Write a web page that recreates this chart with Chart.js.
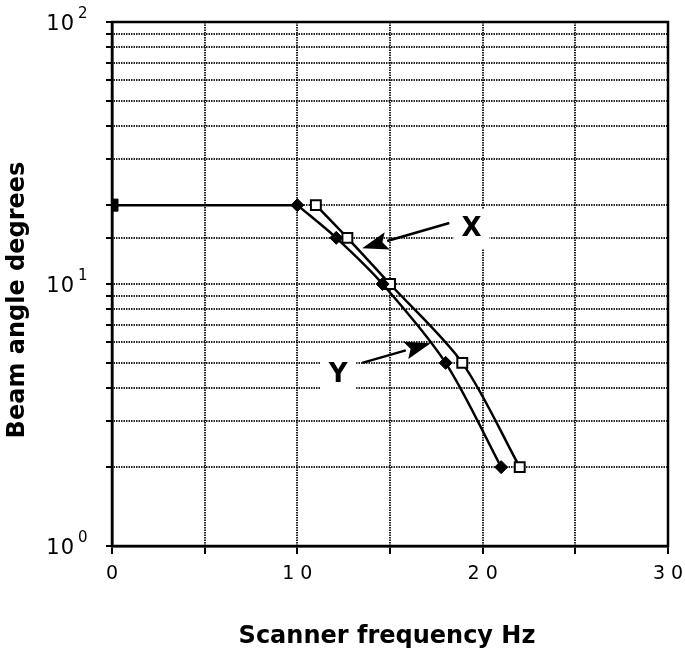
<!DOCTYPE html>
<html>
<head>
<meta charset="utf-8">
<script src="https://cdn.jsdelivr.net/npm/chart.js@4.4.0/dist/chart.umd.min.js"></script>
<style>
  html, body { margin: 0; padding: 0; background: #fff; }
  #wrap { width: 685px; height: 656px; position: relative; }
</style>
</head>
<body>
<div id="wrap"><canvas id="scanChart"></canvas></div>
<script>
// values
const startFreq = [0, 10];
const startAngle = [20, 20];
const yFreq = [10, 12.1, 14.6, 18, 21];
const yAngle = [20, 15, 10, 5, 2];
const xFreq = [11, 12.7, 15, 18.9, 22];
const xAngle = [20, 15, 10, 5, 2];

const xTickLabels = ['0', '10', '20', '30'];
const yTickPowers = [0, 1, 2];

const xTitle = 'Scanner frequency Hz';
const yTitle = 'Beam angle degrees';

// callouts, in data units: label spot, arrow tail, arrow tip
const calloutText = ['X', 'Y'];
const calloutAt = [[19.4, 16.2], [12.2, 4.5]];
const calloutFrom = [[18.2, 17.1], [13.5, 5.0]];
const calloutTo = [[13.5, 13.7], [17.2, 5.94]];

const toPts = (xs, ys) => xs.map((x, i) => ({ x: x, y: ys[i] }));

const FONT = '"DejaVu Sans", Verdana, sans-serif';

const extras = {
    id: 'extras',
    beforeDraw(chart) {
        // wide tick digits like the original
        chart.ctx.letterSpacing = '6px';
    },
    beforeDatasetsDraw(chart) {
        chart.ctx.letterSpacing = '0px';
    },
    afterDraw(chart) {
        const ctx = chart.ctx;
        const area = chart.chartArea;
        const xs = chart.scales.x;
        const ys = chart.scales.y;
        ctx.save();
        ctx.letterSpacing = '0px';

        // frame
        ctx.strokeStyle = '#000';
        ctx.lineWidth = 2.5;
        ctx.strokeRect(area.left, area.top, area.right - area.left, area.bottom - area.top);

        // y tick labels 10^n
        ctx.fillStyle = '#000';
        yTickPowers.forEach(p => {
            const py = ys.getPixelForValue(Math.pow(10, p));
            ctx.font = '21px ' + FONT;
            ctx.textAlign = 'right';
            ctx.textBaseline = 'alphabetic';
            ctx.letterSpacing = '1px';
            ctx.fillText('10', 75, py + 8);
            ctx.font = '15px ' + FONT;
            ctx.textAlign = 'left';
            ctx.letterSpacing = '0px';
            ctx.fillText(String(p), 78, py - 4);
        });

        // axis titles
        ctx.font = 'bold 24px ' + FONT;
        ctx.textAlign = 'center';
        ctx.textBaseline = 'alphabetic';
        ctx.fillText(xTitle, 387, 643);
        ctx.save();
        ctx.translate(24, 300);
        ctx.rotate(-Math.PI / 2);
        ctx.fillText(yTitle, 0, 0);
        ctx.restore();

        // callouts with arrows
        calloutText.forEach((t, i) => {
            const lx = xs.getPixelForValue(calloutAt[i][0]);
            const ly = ys.getPixelForValue(calloutAt[i][1]);
            ctx.fillStyle = '#fff';
            ctx.fillRect(lx - 18, ly - 20, 36, 40);
            ctx.fillStyle = '#000';
            ctx.font = 'bold 26px ' + FONT;
            ctx.textAlign = 'center';
            ctx.textBaseline = 'middle';
            ctx.fillText(t, lx, ly);

            const x0 = xs.getPixelForValue(calloutFrom[i][0]);
            const y0 = ys.getPixelForValue(calloutFrom[i][1]);
            const x1 = xs.getPixelForValue(calloutTo[i][0]);
            const y1 = ys.getPixelForValue(calloutTo[i][1]);
            const ang = Math.atan2(y1 - y0, x1 - x0);
            const headLen = 26, headHalf = 9;
            const bx = x1 - headLen * Math.cos(ang);
            const by = y1 - headLen * Math.sin(ang);
            ctx.strokeStyle = '#000';
            ctx.lineWidth = 2.5;
            ctx.beginPath();
            ctx.moveTo(x0, y0);
            ctx.lineTo(bx, by);
            ctx.stroke();
            ctx.beginPath();
            ctx.moveTo(x1, y1);
            ctx.lineTo(bx + headHalf * Math.sin(ang), by - headHalf * Math.cos(ang));
            ctx.lineTo(bx + 5 * Math.cos(ang), by + 5 * Math.sin(ang));
            ctx.lineTo(bx - headHalf * Math.sin(ang), by + headHalf * Math.cos(ang));
            ctx.closePath();
            ctx.fill();
        });
        ctx.restore();
    }
};

const gridDash = [1.5, 1];

const gridOpts = (tickLen) => ({
    color: 'rgba(0,0,0,0.85)',
    lineWidth: 2,
    drawTicks: true,
    tickLength: tickLen,
    tickColor: '#000',
    tickWidth: 2,
    tickBorderDash: []
});

new Chart(document.getElementById('scanChart'), {
    type: 'line',
    data: {
        datasets: [
            {
                label: 'Y',
                data: toPts(yFreq, yAngle),
                borderColor: '#000',
                borderWidth: 2.5,
                tension: 0.3,
                pointStyle: 'rectRot',
                pointRadius: 6.5,
                pointBackgroundColor: '#000',
                pointBorderColor: '#000',
                pointBorderWidth: 1
            },
            {
                label: 'start',
                data: toPts(startFreq, startAngle),
                borderColor: '#000',
                borderWidth: 2.5,
                tension: 0,
                pointStyle: 'rect',
                pointRadius: [8.5, 0],
                pointBackgroundColor: '#000',
                pointBorderColor: '#000',
                pointBorderWidth: 1
            },
            {
                label: 'X',
                data: toPts(xFreq, xAngle),
                borderColor: '#000',
                borderWidth: 2.5,
                tension: 0.3,
                pointStyle: 'rect',
                pointRadius: 7,
                pointBackgroundColor: '#fff',
                pointBorderColor: '#000',
                pointBorderWidth: 2
            }
        ]
    },
    options: {
        responsive: true,
        maintainAspectRatio: false,
        animation: false,
        layout: { padding: { top: 22, right: 17, left: 0, bottom: 0 } },
        plugins: {
            legend: { display: false },
            tooltip: { enabled: false }
        },
        scales: {
            x: {
                type: 'linear',
                min: 0,
                max: 30,
                afterFit: s => { s.height = 110; s.paddingLeft = 0; s.paddingRight = 0; },
                ticks: {
                    stepSize: 5,
                    autoSkip: false,
                    maxRotation: 0,
                    padding: 9,
                    labelOffset: 3,
                    color: '#000',
                    font: { family: FONT, size: 19 },
                    callback: v => xTickLabels.includes(String(v)) ? String(v) : ''
                },
                grid: gridOpts(8),
                border: { display: true, color: '#000', width: 2.5, dash: gridDash }
            },
            y: {
                type: 'logarithmic',
                min: 1,
                max: 100,
                afterFit: s => { s.width = 112; s.paddingTop = 0; s.paddingBottom = 0; },
                ticks: {
                    autoSkip: false,
                    callback: () => '',
                    font: { size: 10 }
                },
                grid: gridOpts(6),
                border: { display: true, color: '#000', width: 2.5, dash: gridDash }
            }
        }
    },
    plugins: [extras]
});
</script>
</body>
</html>
